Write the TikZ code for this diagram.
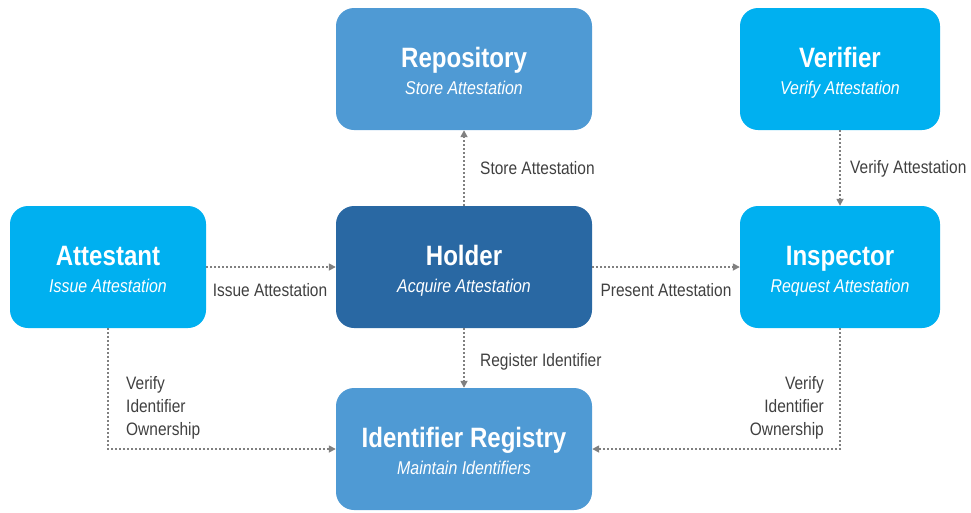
\documentclass[tikz,border=0pt]{standalone}
\usepackage{fontspec}
\setmainfont{Liberation Sans}[FakeStretch=0.86]
\usetikzlibrary{arrows.meta}
\definecolor{cyanbox}{HTML}{00B0F0}
\definecolor{steelbox}{HTML}{4F9AD4}
\definecolor{darkbox}{HTML}{2968A3}
\definecolor{linkgray}{HTML}{808080}
\definecolor{labelgray}{HTML}{404040}
\tikzset{
  box/.style={rounded corners=18pt, minimum width=#1, minimum height=122pt, inner sep=0pt},
  box/.default=256pt,
  boxtitle/.style={anchor=base, text=white, font=\fontsize{28}{32}\selectfont\bfseries},
  boxsub/.style={anchor=base, text=white, font=\fontsize{18.5}{22}\selectfont\itshape},
  link/.style={draw=linkgray, line width=1.6pt, dash pattern=on 1.6pt off 2.4pt,
    -{Triangle[length=7pt,width=7pt]}},
  lbl/.style={text=labelgray, font=\fontsize{18}{23}\selectfont, inner sep=0pt}
}
\begin{document}
\begin{tikzpicture}[x=1pt,y=-1pt]
\useasboundingbox (0,0) rectangle (971,512);

% boxes
\node[box, fill=steelbox] (repo) at (464,69) {};
\node[box=200pt, fill=cyanbox] (verifier) at (840,69) {};
\node[box=196pt, fill=cyanbox] (attestant) at (108,267) {};
\node[box, fill=darkbox] (holder) at (464,267) {};
\node[box=200pt, fill=cyanbox] (inspector) at (840,267) {};
\node[box, fill=steelbox] (registry) at (464,449) {};

% box titles (bold) and roles (italic)
\node[boxtitle] (repoT) at ([yshift=2pt]repo.center) {Repository};
\node[boxsub] (repoS) at ([yshift=-25pt]repo.center) {Store Attestation};
\node[boxtitle] (verifierT) at ([yshift=2pt]verifier.center) {Verifier};
\node[boxsub] (verifierS) at ([yshift=-25pt]verifier.center) {Verify Attestation};
\node[boxtitle] (attestantT) at ([yshift=2pt]attestant.center) {Attestant};
\node[boxsub] (attestantS) at ([yshift=-25pt]attestant.center) {Issue Attestation};
\node[boxtitle] (holderT) at ([yshift=2pt]holder.center) {Holder};
\node[boxsub] (holderS) at ([yshift=-25pt]holder.center) {Acquire Attestation};
\node[boxtitle] (inspectorT) at ([yshift=2pt]inspector.center) {Inspector};
\node[boxsub] (inspectorS) at ([yshift=-25pt]inspector.center) {Request Attestation};
\node[boxtitle] (registryT) at ([yshift=2pt]registry.center) {Identifier Registry};
\node[boxsub] (registryS) at ([yshift=-25pt]registry.center) {Maintain Identifiers};

% connectors
\draw[link] (attestant.east) -- (holder.west);
\draw[link] (holder.north) -- (repo.south);
\draw[link] (holder.east) -- (inspector.west);
\draw[link] (verifier.south) -- (inspector.north);
\draw[link] (holder.south) -- (registry.north);
\draw[link] (attestant.south) |- (registry.west);
\draw[link] (inspector.south) |- (registry.east);

% connector labels
\node[lbl, anchor=base] (issueL) at (270,296) {Issue Attestation};
\node[lbl, anchor=base] (presentL) at (666,296) {Present Attestation};
\node[lbl, anchor=base west] (storeL) at (480,174) {Store Attestation};
\node[lbl, anchor=base west] (verifyL) at (850,173) {Verify Attestation};
\node[lbl, anchor=base west] (registerL) at (480,366) {Register Identifier};
\node[lbl, anchor=north west, align=left] (ownLeft) at (126,376) {Verify\\Identifier\\Ownership};
\node[lbl, anchor=north east, align=right] (ownRight) at (824,376) {Verify\\Identifier\\Ownership};
\end{tikzpicture}
\end{document}
